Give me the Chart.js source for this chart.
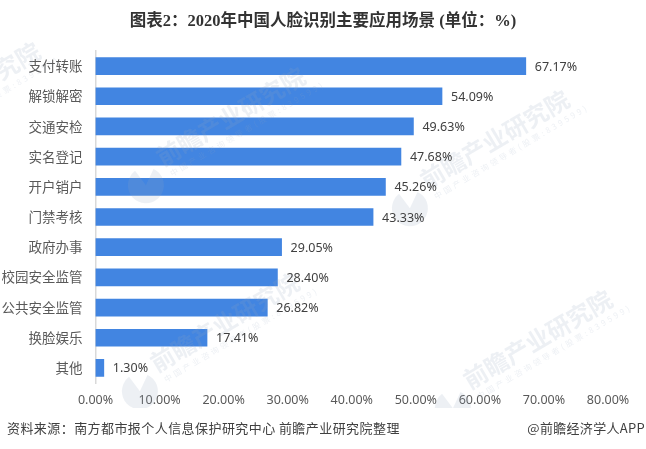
<!DOCTYPE html>
<html>
<head>
<meta charset="utf-8">
<script src="https://cdn.jsdelivr.net/npm/chart.js@4"></script>
<style>
  html, body { margin: 0; padding: 0; background: #fff; }
  #wrap { position: relative; width: 646px; height: 449px; overflow: hidden; }
  #chartTitle { position: absolute; top: 10px; left: 0; width: 646px; text-align: center; font: bold 16.5px/22px "Liberation Serif", "Noto Sans CJK SC", serif; color: #333; white-space: nowrap; }
  #source, #credit { position: absolute; top: 419px; font: 13px "Noto Sans CJK SC", sans-serif; color: #404040; white-space: nowrap; line-height: 18px; }
  #source { left: 7px; letter-spacing: 0.43px; }
  #credit { right: 1px; letter-spacing: 0.3px; }
</style>
</head>
<body>
<div id="wrap">
  <canvas id="faceChart" width="646" height="449"></canvas>
  <div id="chartTitle"></div>
  <div id="source">资料来源：南方都市报个人信息保护研究中心 前瞻产业研究院整理</div>
  <div id="credit">@前瞻经济学人APP</div>
</div>
<script>
const categories = ['支付转账', '解锁解密', '交通安检', '实名登记', '开户销户', '门禁考核', '政府办事', '校园安全监管', '公共安全监管', '换脸娱乐', '其他'];
const shares = [67.17, 54.09, 49.63, 47.68, 45.26, 43.33, 29.05, 28.40, 26.82, 17.41, 1.30];
const titleText = '图表2：2020年中国人脸识别主要应用场景 (单位：%)';

document.getElementById('chartTitle').textContent = titleText;

// faint company watermark, sits over the bars but under the value text
const watermark = {
    id: 'watermark',
    afterDatasetsDraw(chart) {
        const c = chart.ctx;
        const marks = [[-102, 142], [163, 167], [427, 190], [157, 373], [470, 390]];
        c.save();
        c.beginPath();
        c.rect(0, 0, 646, 408);
        c.clip();
        c.fillStyle = 'rgba(150, 165, 190, 0.17)';
        marks.forEach(m => {
            c.save();
            c.translate(m[0], m[1]);
            c.rotate(-0.534);
            // logo
            c.beginPath();
            c.moveTo(-24, 7);
            c.arc(-24, 7, 18, -0.6, 4.6);
            c.closePath();
            c.fill();
            c.font = 'bold 24px "Noto Sans CJK SC"';
            c.fillText('前瞻产业研究院', 0, 0);
            c.font = '8px "Noto Sans CJK SC"';
            c.letterSpacing = '2.8px';
            c.fillText('中国产业咨询领导者(股票:839599)', 3, 13);
            c.letterSpacing = '0px';
            c.restore();
        });
        c.restore();
    }
};

// value text at the end of each bar
const valueLabels = {
    id: 'valueLabels',
    afterDatasetsDraw(chart) {
        const c = chart.ctx;
        c.save();
        c.font = '12.5px "Noto Sans", sans-serif';
        c.fillStyle = '#404040';
        c.textBaseline = 'middle';
        chart.getDatasetMeta(0).data.forEach((bar, i) => {
            c.fillText(shares[i].toFixed(2) + '%', bar.x + 9, bar.y + 1);
        });
        c.restore();
    }
};

new Chart(document.getElementById('faceChart').getContext('2d'), {
    type: 'bar',
    data: {
        labels: categories,
        datasets: [{
            data: shares,
            backgroundColor: '#4285e1',
            barThickness: 17
        }]
    },
    options: {
        indexAxis: 'y',
        responsive: false,
        animation: false,
        layout: { padding: { top: 51, right: 38, bottom: 39, left: 0 } },
        plugins: {
            legend: { display: false },
            tooltip: { enabled: false }
        },
        scales: {
            x: {
                min: 0,
                max: 80,
                ticks: {
                    stepSize: 10,
                    color: '#595959',
                    font: { family: '"Noto Sans"', size: 12.5 },
                    padding: 2,
                    maxRotation: 0,
                    callback: v => v.toFixed(2) + '%'
                },
                grid: { display: false },
                border: { display: false }
            },
            y: {
                afterFit(scale) { scale.width = 95.5; },
                ticks: {
                    color: '#595959',
                    font: { family: '"Noto Sans CJK SC"', size: 13.5 },
                    padding: 5,
                    autoSkip: false
                },
                grid: { display: false },
                border: { display: true, color: '#d9d9d9', width: 1.5 }
            }
        }
    },
    plugins: [watermark, valueLabels]
});
</script>
</body>
</html>
